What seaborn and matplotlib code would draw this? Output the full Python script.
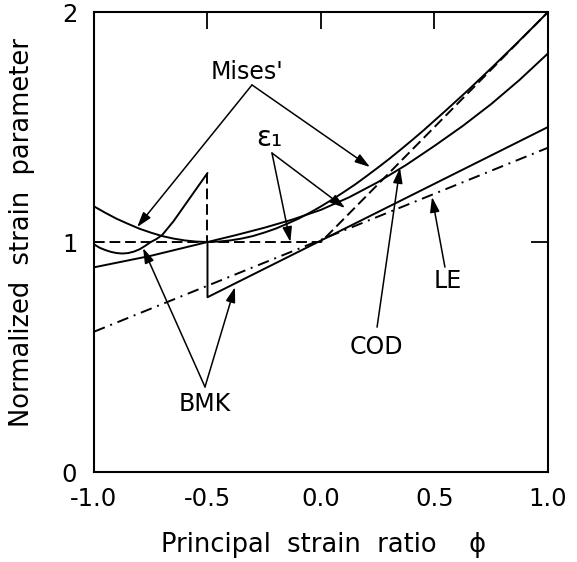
import matplotlib
matplotlib.use("Agg")
import matplotlib.pyplot as plt
import seaborn as sns

# ---- data ----
phi_grid = [-1.0, -0.95, -0.9, -0.85, -0.8, -0.75, -0.7, -0.65, -0.6, -0.55, -0.5,
            -0.45, -0.4, -0.35, -0.3, -0.25, -0.2, -0.15, -0.1, -0.05, 0.0,
            0.05, 0.1, 0.15, 0.2, 0.25, 0.3, 0.35, 0.4, 0.45, 0.5,
            0.55, 0.6, 0.65, 0.7, 0.75, 0.8, 0.85, 0.9, 0.95, 1.0]
mises = [1.155, 1.127, 1.101, 1.079, 1.058, 1.041, 1.026, 1.015, 1.007, 1.002, 1.000,
         1.002, 1.007, 1.015, 1.026, 1.041, 1.058, 1.079, 1.101, 1.127, 1.155,
         1.185, 1.217, 1.250, 1.286, 1.323, 1.361, 1.401, 1.442, 1.484, 1.528,
         1.572, 1.617, 1.662, 1.709, 1.756, 1.804, 1.852, 1.901, 1.950, 2.000]

cod_phi = [-1.0, -0.875, -0.75, -0.625, -0.5, -0.375, -0.25, -0.125, 0.0,
           0.125, 0.25, 0.375, 0.5, 0.625, 0.75, 0.875, 1.0]
cod = [0.89, 0.915, 0.94, 0.97, 1.00, 1.03, 1.062, 1.098, 1.14,
       1.195, 1.26, 1.335, 1.418, 1.505, 1.60, 1.705, 1.82]

eps1_phi = [-1.0, 0.0, 1.0]
eps1 = [1.0, 1.0, 2.0]

le_phi = [-1.0, 1.0]
le = [0.61, 1.41]

bmk_left_phi = [-1.0, -0.975, -0.95, -0.925, -0.9, -0.875, -0.85, -0.825, -0.8,
                -0.775, -0.75, -0.725, -0.7, -0.65, -0.6, -0.55, -0.5]
bmk_left = [0.99, 0.975, 0.965, 0.957, 0.952, 0.950, 0.952, 0.958, 0.968,
            0.983, 1.0, 1.013, 1.03, 1.09, 1.16, 1.23, 1.30]
bmk_jump_phi = [-0.5, -0.5]
bmk_jump = [1.30, 1.00]
bmk_right_phi = [-0.5, -0.5, 1.0]
bmk_right = [1.00, 0.76, 1.50]

x_ticks = [-1.0, -0.5, 0.0, 0.5, 1.0]
x_ticklabels = ["-1.0", "-0.5", "0.0", "0.5", "1.0"]
y_ticks = [0, 1, 2]
y_ticklabels = ["0", "1", "2"]

sns.set_theme(style="white")
plt.rcParams["font.family"] = ["DejaVu Sans"]

fig = plt.figure(figsize=(5.77, 5.62), dpi=100)
ax = fig.add_axes([0.1629, 0.1601, 0.7868, 0.8185])


def draw(x, y, **kw):
    sns.lineplot(x=x, y=y, ax=ax, color="black", lw=1.4, estimator=None,
                 sort=False, legend=False, **kw)


draw(phi_grid, mises)
draw(cod_phi, cod)
draw(eps1_phi, eps1, linestyle=(0, (5.5, 2.5)))
draw(le_phi, le, linestyle=(0, (6, 3, 1, 3)))
draw(bmk_left_phi, bmk_left)
draw(bmk_jump_phi, bmk_jump, linestyle=(0, (5.5, 2.5)))
draw(bmk_right_phi, bmk_right)

ax.set_xlim(-1, 1)
ax.set_ylim(0, 2)
ax.set_xticks(x_ticks)
ax.set_xticklabels(x_ticklabels)
ax.set_yticks(y_ticks)
ax.set_yticklabels(y_ticklabels)
ax.tick_params(axis="both", direction="in", length=12.5, width=1.3,
               top=True, right=True, labelsize=17.5, colors="black")
ax.tick_params(axis="x", pad=11)
ax.tick_params(axis="y", pad=12)
for s in ax.spines.values():
    s.set_color("black")
    s.set_linewidth(1.5)

ax.set_xlabel("Principal  strain  ratio    \u03d5", fontsize=18.5, color="black")
ax.set_ylabel("Normalized  strain  parameter", fontsize=18.5, color="black")
ax.xaxis.set_label_coords(0.505, -0.13)
ax.yaxis.set_label_coords(-0.13, 0.52)

ap = dict(arrowstyle="-|>,head_length=0.7,head_width=0.22", color="black",
          lw=1.1, shrinkA=0, shrinkB=0, mutation_scale=13)


def arrow(tail, tip):
    ax.annotate("", xy=tip, xytext=tail, xycoords="data", textcoords="data",
                arrowprops=ap)


fs = 17
# Mises'
ax.text(-0.326, 1.74, "Mises'", ha="center", va="center", fontsize=fs, color="black")
arrow((-0.304, 1.683), (-0.81, 1.065))
arrow((-0.304, 1.683), (0.216, 1.326))
# eps1
ax.text(-0.229, 1.452, "\u03b5\u2081", ha="center", va="center", fontsize=fs + 3, color="black")
arrow((-0.216, 1.387), (-0.135, 1.0))
arrow((-0.216, 1.387), (0.106, 1.148))
# LE
ax.text(0.559, 0.83, "LE", ha="center", va="center", fontsize=fs, color="black")
arrow((0.546, 0.891), (0.489, 1.196))
# COD
ax.text(0.242, 0.543, "COD", ha="center", va="center", fontsize=fs, color="black")
arrow((0.247, 0.630), (0.348, 1.322))
# BMK
ax.text(-0.511, 0.296, "BMK", ha="center", va="center", fontsize=fs, color="black")
arrow((-0.511, 0.37), (-0.784, 0.974))
arrow((-0.511, 0.37), (-0.379, 0.804))

fig.savefig("out.png", dpi=100)
